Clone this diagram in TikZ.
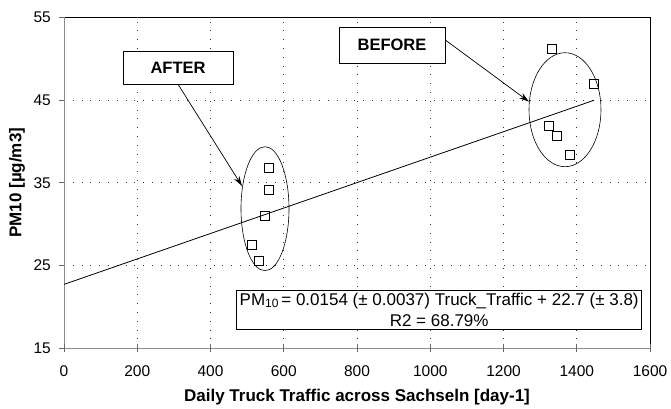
\documentclass[tikz,border=0pt]{standalone}
\usepackage{fontspec}
\setmainfont{Liberation Sans}
\usetikzlibrary{arrows.meta}

\tikzset{
  gridline/.style={black!80, line width=0.6pt, dash pattern=on 0.8pt off 8pt},
  axisline/.style={black!45, line width=0.9pt},
  frameline/.style={black, line width=0.7pt},
  tickline/.style={black!60, line width=0.6pt},
  ticklabel/.style={font=\fontsize{15.5}{18}\selectfont, inner sep=0pt},
  axistitle/.style={font=\bfseries\fontsize{17}{20}\selectfont, inner sep=0pt},
  sample/.style={draw, line width=0.6pt, minimum size=9pt, inner sep=0pt},
  ring/.style={line width=0.6pt},
  fitline/.style={line width=0.8pt},
  tagbox/.style={draw, line width=0.6pt, fill=white, font=\bfseries\fontsize{16.5}{19}\selectfont},
  pointer/.style={line width=0.7pt, -{Stealth[length=10pt, width=6pt]}},
  eqbox/.style={draw, line width=0.6pt, fill=white, align=center,
    font=\fontsize{17}{21}\selectfont, inner xsep=3pt, inner ysep=3pt}
}

\begin{document}
\begin{tikzpicture}[x=0.36625pt, y=8.2625pt]
  \useasboundingbox (-174.74,7.737) rectangle (1657.34,57.118);

  % dotted grid
  \foreach \gx in {200,400,...,1400} \draw[gridline] (\gx,15) -- (\gx,55);
  \foreach \gy in {25,35,45} \draw[gridline] (0,\gy) -- (1600,\gy);

  % plot frame and axes
  \draw[frameline] (0,55) -- (1600,55) -- (1600,15);
  \draw[axisline] (0,55) -- (0,15) -- (1600,15);

  % y ticks and labels
  \foreach \gy in {15,25,35,45,55} {
    \draw[tickline] (0,\gy) -- ++(-5pt,0);
    \node[ticklabel, anchor=east] (ylab\gy) at ([xshift=-13pt]0,\gy) {\gy};
  }
  % x ticks and labels
  \foreach \gx in {0,200,...,1600} {
    \draw[tickline] ([yshift=-4pt]\gx,15) -- ([yshift=4pt]\gx,15);
    \node[ticklabel] (xlab\gx) at (\gx,12.2) {\gx};
  }

  % axis titles
  \node[axistitle] (xtitle) at (800,9.1) {Daily Truck Traffic across Sachseln [day-1]};
  \node[axistitle, rotate=90] (ytitle) at (-128,35) {PM10 [µg/m3]};

  % regression line
  \coordinate (fitstart) at (0,22.7);
  \coordinate (fitend) at (1447,44.98);
  \draw[fitline] (fitstart) -- (fitend);

  % measurements after the bypass opened
  \node[sample] (a1) at (560.5,36.75) {};
  \node[sample] (a2) at (559.7,34.13) {};
  \node[sample] (a3) at (546.9,31.01) {};
  \node[sample] (a4) at (512.5,27.55) {};
  \node[sample] (a5) at (533.2,25.53) {};
  % measurements before
  \node[sample] (b1) at (1330.5,51.22) {};
  \node[sample] (b2) at (1446.3,46.95) {};
  \node[sample] (b3) at (1323.4,41.90) {};
  \node[sample] (b4) at (1345.3,40.70) {};
  \node[sample] (b5) at (1379.7,38.36) {};

  % cluster outlines
  \coordinate (aftercentre) at (548.8,31.86);
  \coordinate (beforecentre) at (1367.9,43.84);
  \draw[ring] (aftercentre) ellipse [x radius=24pt, y radius=62pt];
  \draw[ring] (beforecentre) ellipse [x radius=36pt, y radius=57pt];

  % labels with pointers
  \node[tagbox, minimum width=110pt, minimum height=33pt] (after) at (311.3,48.95) {AFTER};
  \node[tagbox, minimum width=106pt, minimum height=36pt] (before) at (895.6,51.67) {BEFORE};
  \coordinate (aftertip) at (486,34.61);
  \coordinate (beforetip) at (1269.6,44.81);
  \draw[pointer] (after.south) -- (aftertip);
  \draw[pointer] ([yshift=5pt]before.east) -- (beforetip);

  % regression equation
  \node[eqbox, anchor=east] (eq) at (1578,19.6)
    {PM{\fontsize{12}{13}\selectfont\raisebox{-0.3ex}{10}}\,= 0.0154 (± 0.0037) Truck\_Traffic + 22.7 (± 3.8)\\R2 = 68.79\%};
\end{tikzpicture}
\end{document}
